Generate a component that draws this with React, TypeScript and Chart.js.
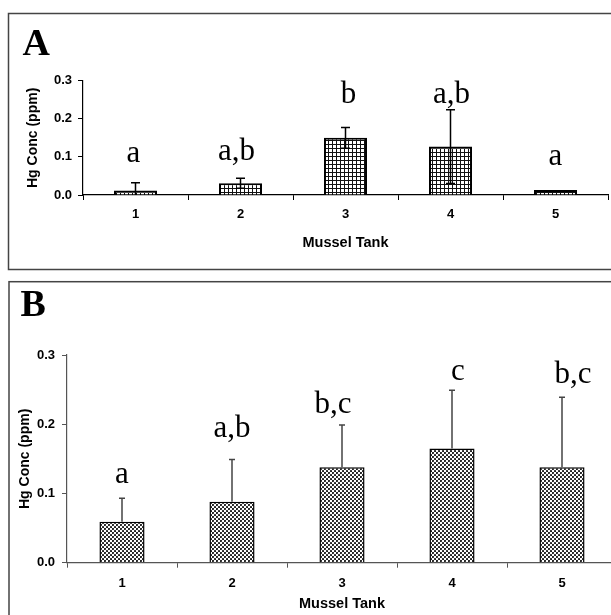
import { useEffect, useRef } from "react";
import { Chart, registerables } from "chart.js";

Chart.register(...registerables);

// Shared axes
const tanks = ["1", "2", "3", "4", "5"];
const yTickValues = [0, 0.1, 0.2, 0.3];

// Panel A: Hg concentration (ppm) per mussel tank, mean and SD
const hgA = [0.012, 0.031, 0.15, 0.127, 0.013];
const sdA = [0.02, 0.013, 0.027, 0.097, 0];
const groupsA = ["a", "a,b", "b", "a,b", "a"];

// Panel B: Hg concentration (ppm) per mussel tank, mean and SD
const hgB = [0.059, 0.088, 0.138, 0.165, 0.138];
const sdB = [0.034, 0.061, 0.061, 0.084, 0.101];
const groupsB = ["a", "a,b", "b,c", "c", "b,c"];

function gridPattern(ctx: CanvasRenderingContext2D) {
  const c = document.createElement("canvas");
  c.width = 4;
  c.height = 4;
  const g = c.getContext("2d")!;
  g.fillStyle = "#fff";
  g.fillRect(0, 0, 4, 4);
  g.fillStyle = "#111";
  g.fillRect(0, 0, 4, 1);
  g.fillRect(0, 0, 1, 4);
  return ctx.createPattern(c, "repeat")!;
}

function dotPattern(ctx: CanvasRenderingContext2D) {
  const c = document.createElement("canvas");
  c.width = 4;
  c.height = 4;
  const g = c.getContext("2d")!;
  g.fillStyle = "#fff";
  g.fillRect(0, 0, 4, 4);
  g.fillStyle = "#111";
  g.beginPath();
  g.arc(1, 1, 1.05, 0, Math.PI * 2);
  g.fill();
  g.beginPath();
  g.arc(3, 3, 1.05, 0, Math.PI * 2);
  g.fill();
  return ctx.createPattern(c, "repeat")!;
}

type PanelSpec = {
  tag: string;
  tagX: number;
  tagBaseline: number;
  frame: [number, number, number];
  values: number[];
  errors: number[];
  letters: string[];
  letterLift: number[];
  letterDx: number[];
  twoSided: boolean;
  capHalf: number;
  errColor: string;
  axisColor: string;
  pattern: "grid" | "dots";
  barBorder: number;
  area: { left: number; right: number; top: number; bottom: number };
  width: number;
  height: number;
  yTitlePad: number;
  yTickPad: number;
  xTickPad: number;
  xTitlePad: number;
};

function buildChart(canvas: HTMLCanvasElement, p: PanelSpec) {
  const ctx = canvas.getContext("2d")!;
  const fill = p.pattern === "grid" ? gridPattern(ctx) : dotPattern(ctx);

  const decorations = {
    id: "panelDecor",
    beforeDraw(chart: any) {
      const c = chart.ctx;
      c.save();
      c.strokeStyle = "#444";
      c.lineWidth = 1.5;
      c.strokeRect(p.frame[0], p.frame[1], 900, p.frame[2]);
      c.fillStyle = "#000";
      c.font = 'bold 38px "Liberation Serif"';
      c.textAlign = "left";
      c.textBaseline = "alphabetic";
      c.fillText(p.tag, p.tagX, p.tagBaseline);
      c.restore();
    },
    afterDatasetsDraw(chart: any) {
      const c = chart.ctx;
      const y = chart.scales.y;
      const meta = chart.getDatasetMeta(0);
      c.save();
      meta.data.forEach((bar: any, i: number) => {
        const v = p.values[i];
        const e = p.errors[i];
        const x = bar.x;
        const top = y.getPixelForValue(v + e);
        if (e > 0) {
          const low = p.twoSided ? y.getPixelForValue(Math.max(v - e, 0)) : y.getPixelForValue(v);
          c.strokeStyle = p.errColor;
          c.lineWidth = 1.5;
          c.beginPath();
          c.moveTo(x, top);
          c.lineTo(x, low);
          c.moveTo(x - p.capHalf, top);
          c.lineTo(x + p.capHalf, top);
          if (p.twoSided && v - e > 0) {
            c.moveTo(x - p.capHalf, low);
            c.lineTo(x + p.capHalf, low);
          }
          c.stroke();
        }
        c.fillStyle = "#000";
        c.font = '31px "Liberation Serif"';
        c.textAlign = "center";
        c.textBaseline = "alphabetic";
        c.fillText(p.letters[i], x + p.letterDx[i], top - p.letterLift[i]);
      });
      c.restore();
    },
  };

  const a = p.area;
  return new Chart(canvas, {
    type: "bar",
    data: {
      labels: tanks,
      datasets: [
        {
          data: p.values,
          backgroundColor: fill,
          borderColor: "#000",
          borderWidth: p.barBorder,
          categoryPercentage: 1,
          barPercentage: 0.41,
        },
      ],
    },
    options: {
      responsive: false,
      animation: false,
      events: [],
      layout: {
        padding: { left: 0, top: a.top, right: p.width - a.right, bottom: 0 },
      },
      plugins: { legend: { display: false }, tooltip: { enabled: false } },
      scales: {
        x: {
          grid: {
            display: true,
            drawOnChartArea: false,
            drawTicks: true,
            tickLength: 5,
            color: p.axisColor,
            offset: true,
          },
          border: { display: true, color: p.axisColor, width: 1.2 },
          ticks: {
            color: "#000",
            padding: p.xTickPad,
            maxRotation: 0,
            font: { family: '"Liberation Sans", Arial', size: 13, weight: "bold" },
          },
          title: {
            display: true,
            text: "Mussel Tank",
            color: "#000",
            padding: { top: 0, bottom: p.xTitlePad },
            font: { family: '"Liberation Sans", Arial', size: 14.5, weight: "bold" },
          },
          afterFit(s: any) {
            s.height = p.height - a.bottom;
            s.paddingLeft = 0;
            s.paddingRight = 0;
          },
        },
        y: {
          min: 0,
          max: 0.3,
          afterBuildTicks(s: any) {
            s.ticks = yTickValues.map((value) => ({ value }));
          },
          grid: {
            display: true,
            drawOnChartArea: false,
            drawTicks: true,
            tickLength: 5,
            color: p.axisColor,
          },
          border: { display: true, color: p.axisColor, width: 1.2 },
          ticks: {
            color: "#000",
            padding: p.yTickPad,
            callback: (v: any) => Number(v).toFixed(1),
            font: { family: '"Liberation Sans", Arial', size: 13, weight: "bold" },
          },
          title: {
            display: true,
            text: "Hg Conc (ppm)",
            color: "#000",
            padding: { top: p.yTitlePad, bottom: 0 },
            font: { family: '"Liberation Sans", Arial', size: 14, weight: "bold" },
          },
          afterFit(s: any) {
            s.width = a.left;
            s.paddingTop = 0;
            s.paddingBottom = 0;
          },
        },
      },
    },
    plugins: [decorations],
  } as any);
}

const panelA: PanelSpec = {
  tag: "A",
  tagX: 22.5,
  tagBaseline: 55,
  frame: [8.5, 13.5, 256],
  values: hgA,
  errors: sdA,
  letters: groupsA,
  letterLift: [21, 18, 25, 7, 25],
  letterDx: [-2, -4, 3, 1, 0],
  twoSided: true,
  capHalf: 4.5,
  errColor: "#000",
  axisColor: "#000",
  pattern: "grid",
  barBorder: 2,
  area: { left: 83, right: 608, top: 80.7, bottom: 195 },
  width: 640,
  height: 276,
  yTitlePad: 25,
  yTickPad: 6,
  xTickPad: 6.7,
  xTitlePad: 24.3,
};

const panelB: PanelSpec = {
  tag: "B",
  tagX: 20.5,
  tagBaseline: 40,
  frame: [9, 5.7, 900],
  values: hgB,
  errors: sdB,
  letters: groupsB,
  letterLift: [15, 23, 12, 10, 14],
  letterDx: [0, 0, -9, 6, 11],
  twoSided: false,
  capHalf: 3,
  errColor: "#444",
  axisColor: "#555",
  pattern: "dots",
  barBorder: 1.5,
  area: { left: 67, right: 617, top: 79, bottom: 286.7 },
  width: 640,
  height: 339,
  yTitlePad: 17.2,
  yTickPad: 7,
  xTickPad: 7.5,
  xTitlePad: 2,
};

export default function App() {
  const refA = useRef<HTMLCanvasElement>(null);
  const refB = useRef<HTMLCanvasElement>(null);

  useEffect(() => {
    const ca = buildChart(refA.current!, panelA);
    const cb = buildChart(refB.current!, panelB);
    return () => {
      ca.destroy();
      cb.destroy();
    };
  }, []);

  return (
    <div
      style={{
        position: "fixed",
        left: 0,
        top: 0,
        width: 611,
        height: 615,
        overflow: "hidden",
        background: "#fff",
      }}
    >
      <canvas
        ref={refA}
        width={panelA.width}
        height={panelA.height}
        style={{ position: "absolute", left: 0, top: 0 }}
      />
      <canvas
        ref={refB}
        width={panelB.width}
        height={panelB.height}
        style={{ position: "absolute", left: 0, top: 276 }}
      />
    </div>
  );
}
